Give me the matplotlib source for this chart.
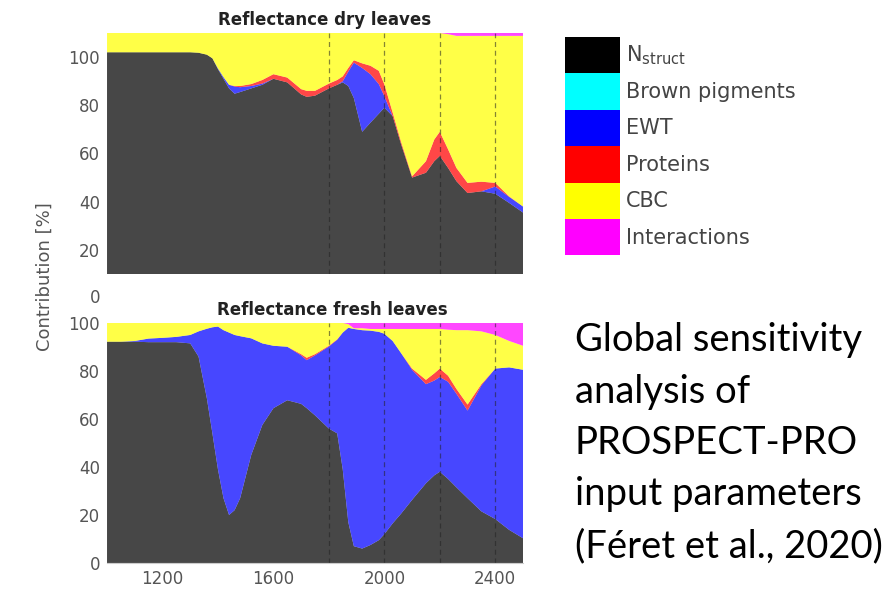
import matplotlib
matplotlib.use("Agg")
import matplotlib.pyplot as plt
from matplotlib.patches import Patch

# wavelengths (nm)
wl = [1000, 1050, 1100, 1150, 1200, 1250, 1300, 1330, 1360, 1380, 1400, 1420, 1440, 1460, 1480,
      1520, 1560, 1600, 1650, 1700, 1720, 1750, 1800, 1830, 1850, 1870, 1890, 1920, 1950, 1980,
      2000, 2030, 2060, 2100, 2150, 2180, 2200, 2230, 2260, 2300, 2350, 2400, 2450, 2500]

# dry leaves
nstruct_dry = [102, 102, 102, 102, 102, 102, 102, 101.8, 101, 99.5, 95, 91, 87, 84.8, 85.5,
               87, 88.5, 91, 89.5, 84.5, 83.5, 84, 87, 88.5, 89.5, 88, 83, 69, 72.8, 76.5,
               79, 75.5, 64, 50, 52, 56.8, 59, 54, 48.5, 43.6, 44.3, 43.3, 39.5, 35.5]
brown_dry = [0, 0, 0, 0, 0, 0, 0, 0, 0, 0, 0, 0, 0, 0, 0, 0, 0, 0, 0, 0, 0, 0,
             0, 0, 0, 0, 0, 0, 0, 0, 0, 0, 0, 0, 0, 0, 0, 0, 0, 0, 0, 0, 0, 0]
ewt_dry = [0, 0, 0, 0, 0, 0, 0, 0, 0, 0, 0.3, 0.7, 1.5, 3, 2,
           1, 0.5, 0, 0, 0, 0, 0, 0, 0, 0.5, 6, 14.7, 26.5, 20.1, 12.3,
           4.8, 0, 0, 0, 0, 0, 0, 0, 0, 0, 0, 3, 2.5, 2.5]
protein_dry = [0, 0, 0, 0, 0, 0, 0, 0, 0, 0, 0, 0, 0, 0.2, 0.5,
               0.8, 1.5, 1.9, 2, 2.2, 2.5, 2, 2, 2, 2, 1.5, 1, 1.9, 3.5, 5.5,
               4.9, 1.5, 1, 0.5, 4.8, 9, 10, 7.7, 5.5, 4.2, 4, 1.5, 0.2, 0]
cbc_dry = [8, 8, 8, 8, 8, 8, 8, 8.2, 9, 10.5, 14.7, 18.3, 21.5, 22, 22,
           21.2, 19.5, 17.1, 18.5, 23.3, 24, 24, 21, 19.5, 18, 14.5, 11.3, 12.6, 13.6, 15.7,
           21.3, 33, 45, 59.5, 53.2, 44.2, 41, 47.8, 54.8, 61, 60.5, 61, 66.6, 70.8]
interact_dry = [0, 0, 0, 0, 0, 0, 0, 0, 0, 0, 0, 0, 0, 0, 0,
                0, 0, 0, 0, 0, 0, 0, 0, 0, 0, 0, 0, 0, 0, 0,
                0, 0, 0, 0, 0, 0, 0, 0.5, 1.2, 1.2, 1.2, 1.2, 1.2, 1.2]

# fresh leaves
nstruct_fresh = [92.2, 92.2, 92.2, 92, 92, 92, 91.5, 86, 68.6, 54, 39, 27, 20, 22, 27,
                 45, 57.5, 64.5, 67.8, 66.3, 64.5, 61.5, 56, 54, 39, 17, 7, 6, 7.5, 9.5,
                 12, 16.5, 20.5, 26.3, 33.2, 36.5, 38, 35, 31.5, 27, 21.5, 18.3, 13.8, 10.3]
brown_fresh = [0, 0, 0, 0, 0, 0, 0, 0, 0, 0, 0, 0, 0, 0, 0, 0, 0, 0, 0, 0, 0, 0,
               0, 0, 0, 0, 0, 0, 0, 0, 0, 0, 0, 0, 0, 0, 0, 0, 0, 0, 0, 0, 0, 0]
ewt_fresh = [0, 0, 0.3, 1.5, 1.8, 2.2, 3.5, 10.5, 29, 44.2, 59.5, 70, 76, 73, 67.5,
             48.6, 34, 26, 22.3, 20.2, 20, 25, 34.2, 39, 57, 81, 90.5, 91, 89.3, 86.8,
             83.5, 76, 67, 54.2, 41.3, 39.5, 39.5, 40.5, 39, 36.5, 52.5, 62.7, 67.7, 70.2]
protein_fresh = [0, 0, 0, 0, 0, 0, 0, 0, 0, 0, 0, 0, 0, 0, 0,
                 0, 0, 0, 0, 0.5, 1, 0.5, 0.3, 0.2, 0, 0, 0, 0, 0, 0,
                 0, 0, 0, 0.5, 1.8, 3, 3.5, 2.5, 2, 2.5, 0.5, 0, 0, 0]
cbc_fresh = [7.8, 7.8, 7.5, 6.5, 6.2, 5.8, 5.0, 3.5, 2.4, 1.8, 1.5, 3.0, 4.0, 5.0, 5.5,
             6.4, 8.5, 9.5, 9.9, 13.0, 14.5, 13.0, 9.5, 6.8, 4.0, 1.5, 0.3, 0.8, 0.7, 1.2,
             2.0, 5.0, 10.0, 16.5, 21.2, 18.5, 16.5, 19.2, 24.5, 31.0, 22.0, 14.0, 11.0, 10.0]
interact_fresh = [0, 0, 0, 0, 0, 0, 0, 0, 0, 0, 0, 0, 0, 0, 0,
                  0, 0, 0, 0, 0, 0, 0, 0, 0, 0, 0.5, 2.2, 2.2, 2.5, 2.5,
                  2.5, 2.5, 2.5, 2.5, 2.5, 2.5, 2.5, 2.8, 3, 3, 3.5, 5, 7.5, 9.5]

labels = [r"N$_{\mathregular{struct}}$", "Brown pigments", "EWT", "Proteins", "CBC", "Interactions"]
colors = ["#000000", "#00ffff", "#0000ff", "#ff0000", "#ffff00", "#ff00ff"]
dashed_wl = [1800, 2000, 2200, 2400]

tick_col = "#555555"

fig = plt.figure(figsize=(8.86, 5.90), dpi=100)
ax1 = fig.add_axes([0.1208, 0.5356, 0.4695, 0.4085])
ax2 = fig.add_axes([0.1208, 0.0458, 0.4695, 0.4068])

ax1.stackplot(wl, nstruct_dry, brown_dry, ewt_dry, protein_dry, cbc_dry, interact_dry,
              colors=colors, alpha=0.72, lw=0)
ax2.stackplot(wl, nstruct_fresh, brown_fresh, ewt_fresh, protein_fresh, cbc_fresh, interact_fresh,
              colors=colors, alpha=0.72, lw=0)

for ax in (ax1, ax2):
    for x in dashed_wl:
        ax.axvline(x, color="#222222", ls=(0, (4, 3)), lw=0.9, alpha=0.55)
    ax.set_xlim(1000, 2500)
    for s in ax.spines.values():
        s.set_visible(False)
    ax.tick_params(length=0, labelsize=12, labelcolor=tick_col, pad=5)

ax1.set_ylim(10, 110)
ax1.set_yticks([20, 40, 60, 80, 100])
ax1.set_xticks([])
ax2.set_ylim(0, 100)
ax2.set_yticks([0, 20, 40, 60, 80, 100])
ax2.set_xticks([1200, 1600, 2000, 2400])
ax2.tick_params(axis="x", pad=5)
ax2.spines["bottom"].set_visible(True)
ax2.spines["bottom"].set_color("#cccccc")

# the "0" of the upper panel sits below its visible area
fig.text(100 / 886, 1 - 298 / 590, "0", ha="right", va="center", fontsize=12, color=tick_col)

fig.text(325 / 886, 1 - 20 / 590, "Reflectance dry leaves", ha="center", va="center",
         fontsize=12, fontweight="bold", color="#222222")
fig.text(332 / 886, 1 - 310 / 590, "Reflectance fresh leaves", ha="center", va="center",
         fontsize=12, fontweight="bold", color="#222222")
fig.text(45 / 886, 1 - 277 / 590, "Contribution [%]", rotation=90, ha="center", va="center",
         fontsize=13, color=tick_col)

handles = [Patch(facecolor=c, edgecolor="none") for c in colors]
fig.legend(handles, labels, loc="upper left", bbox_to_anchor=(565 / 886, 1 - 37 / 590),
           frameon=False, fontsize=15, handlelength=2.64, handleheight=2.31,
           labelspacing=0, handletextpad=0.3, borderpad=0, borderaxespad=0,
           labelcolor="#444444")

note = ["Global sensitivity", "analysis of", "PROSPECT-PRO", "input parameters",
        "(Féret et al., 2020)"]
for i, line in enumerate(note):
    fig.text(575 / 886, 1 - (351 + 51.5 * i) / 590, line, ha="left", va="baseline",
             fontsize=27.5, color="black", family=["Lato", "DejaVu Sans"])

fig.savefig("out.png", dpi=100)
